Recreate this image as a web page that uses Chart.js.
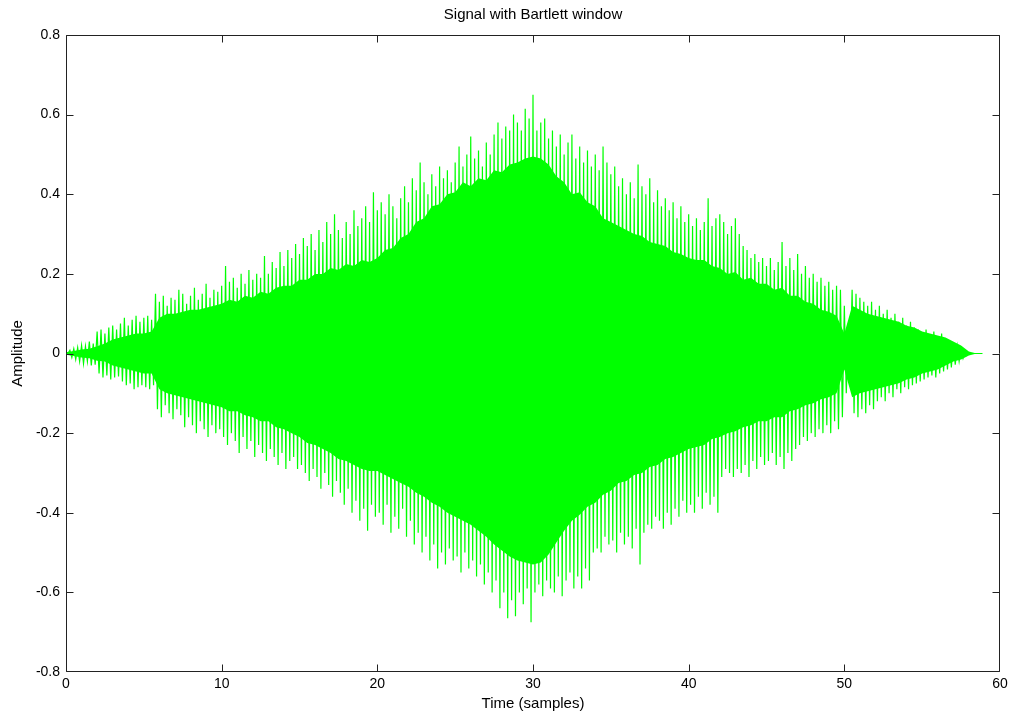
<!DOCTYPE html>
<html>
<head>
<meta charset="utf-8">
<title>Signal with Bartlett window</title>
<script src="https://cdn.jsdelivr.net/npm/chart.js@4.4.0/dist/chart.umd.min.js"></script>
<style>
    html, body { margin: 0; padding: 0; background: #fff; }
    #wrap { width: 1009px; height: 715px; }
</style>
</head>
<body>
<div id="wrap"><canvas id="signalChart" width="1009" height="715"></canvas></div>
<script>
// spike tips above / below zero, one pair every 0.25 samples (0 .. 60)
const peakStep = 0.25;
const peakHi = [
    0.000, 0.008, 0.012, 0.015, 0.020, 0.018, 0.030, 0.025, 0.055, 0.060, 0.050, 0.065, 0.070, 0.060, 0.075, 0.090, 0.070, 0.085, 0.095, 0.080,
    0.090, 0.095, 0.085, 0.150, 0.130, 0.145, 0.120, 0.140, 0.135, 0.160, 0.150, 0.125, 0.145, 0.165, 0.135, 0.150, 0.175, 0.140, 0.160, 0.155,
    0.170, 0.220, 0.180, 0.190, 0.165, 0.200, 0.175, 0.210, 0.185, 0.200, 0.190, 0.245, 0.200, 0.230, 0.215, 0.255, 0.220, 0.260, 0.240, 0.275,
    0.250, 0.290, 0.270, 0.300, 0.260, 0.310, 0.280, 0.330, 0.300, 0.350, 0.310, 0.290, 0.330, 0.300, 0.360, 0.320, 0.340, 0.370, 0.330, 0.405,
    0.360, 0.380, 0.350, 0.400, 0.370, 0.340, 0.390, 0.420, 0.380, 0.440, 0.410, 0.480, 0.430, 0.400, 0.450, 0.420, 0.470, 0.440, 0.460, 0.430,
    0.480, 0.520, 0.470, 0.500, 0.545, 0.490, 0.510, 0.470, 0.530, 0.500, 0.550, 0.580, 0.540, 0.570, 0.560, 0.600, 0.580, 0.560, 0.615, 0.590,
    0.650, 0.560, 0.580, 0.590, 0.540, 0.560, 0.520, 0.550, 0.500, 0.530, 0.550, 0.490, 0.520, 0.480, 0.510, 0.470, 0.500, 0.460, 0.520, 0.480,
    0.450, 0.470, 0.420, 0.440, 0.400, 0.430, 0.390, 0.475, 0.420, 0.400, 0.440, 0.380, 0.410, 0.370, 0.390, 0.360, 0.380, 0.340, 0.370, 0.330,
    0.350, 0.320, 0.340, 0.310, 0.330, 0.390, 0.320, 0.340, 0.350, 0.330, 0.300, 0.320, 0.340, 0.300, 0.270, 0.260, 0.240, 0.250, 0.230, 0.240,
    0.220, 0.240, 0.210, 0.230, 0.280, 0.220, 0.240, 0.210, 0.250, 0.200, 0.220, 0.190, 0.200, 0.180, 0.190, 0.170, 0.180, 0.160, 0.170, 0.160,
    0.120, 0.050, 0.160, 0.150, 0.140, 0.130, 0.120, 0.130, 0.110, 0.120, 0.100, 0.110, 0.090, 0.100, 0.080, 0.090, 0.070, 0.080, 0.065, 0.060,
    0.050, 0.060, 0.045, 0.055, 0.040, 0.050, 0.035, 0.030, 0.025, 0.018, 0.010, 0.004, 0.000, 0.000, 0.000, 0.000, null, null, null, null, null
];
const peakLo = [
    0.000, -0.010, -0.015, -0.020, -0.025, -0.020, -0.030, -0.028, -0.050, -0.060, -0.055, -0.065, -0.060, -0.058, -0.070, -0.080, -0.075, -0.090, -0.085, -0.080,
    -0.085, -0.090, -0.080, -0.140, -0.160, -0.130, -0.150, -0.165, -0.140, -0.155, -0.185, -0.160, -0.180, -0.200, -0.170, -0.190, -0.210, -0.180, -0.200, -0.190,
    -0.210, -0.230, -0.200, -0.220, -0.250, -0.210, -0.240, -0.220, -0.260, -0.230, -0.250, -0.270, -0.240, -0.260, -0.280, -0.250, -0.290, -0.270, -0.260, -0.290,
    -0.280, -0.300, -0.320, -0.290, -0.310, -0.340, -0.300, -0.330, -0.360, -0.320, -0.350, -0.380, -0.340, -0.400, -0.370, -0.420, -0.390, -0.445, -0.380, -0.410,
    -0.400, -0.430, -0.380, -0.450, -0.410, -0.440, -0.390, -0.460, -0.420, -0.480, -0.450, -0.500, -0.460, -0.520, -0.480, -0.540, -0.500, -0.530, -0.490, -0.520,
    -0.510, -0.550, -0.500, -0.540, -0.520, -0.560, -0.530, -0.580, -0.550, -0.600, -0.570, -0.640, -0.600, -0.665, -0.620, -0.660, -0.600, -0.630, -0.590, -0.675,
    -0.600, -0.580, -0.610, -0.570, -0.590, -0.600, -0.560, -0.610, -0.570, -0.550, -0.590, -0.560, -0.590, -0.540, -0.570, -0.500, -0.490, -0.500, -0.460, -0.480,
    -0.470, -0.500, -0.450, -0.480, -0.460, -0.490, -0.440, -0.530, -0.450, -0.430, -0.440, -0.410, -0.420, -0.440, -0.400, -0.430, -0.390, -0.410, -0.370, -0.400,
    -0.380, -0.400, -0.360, -0.390, -0.350, -0.380, -0.360, -0.400, -0.310, -0.290, -0.300, -0.310, -0.290, -0.300, -0.280, -0.310, -0.270, -0.290, -0.260, -0.280,
    -0.270, -0.250, -0.280, -0.260, -0.290, -0.250, -0.270, -0.240, -0.230, -0.210, -0.220, -0.200, -0.210, -0.190, -0.200, -0.180, -0.200, -0.170, -0.190, -0.160,
    -0.100, -0.050, -0.150, -0.160, -0.140, -0.150, -0.130, -0.140, -0.120, -0.110, -0.120, -0.100, -0.110, -0.090, -0.100, -0.085, -0.090, -0.080, -0.075, -0.070,
    -0.065, -0.060, -0.055, -0.060, -0.050, -0.045, -0.040, -0.035, -0.028, -0.020, -0.012, -0.005, 0.000, 0.000, 0.000, 0.000, null, null, null, null, null
];

// edge of the dense part of the signal, every 0.5 samples
const bodyStep = 0.5;
const bodyHi = [
    0.003, 0.006, 0.010, 0.012, 0.018, 0.025, 0.035, 0.040, 0.045, 0.050, 0.050, 0.055, 0.090, 0.100, 0.100, 0.105, 0.110, 0.110, 0.115, 0.120,
    0.125, 0.135, 0.130, 0.145, 0.140, 0.155, 0.150, 0.165, 0.170, 0.170, 0.185, 0.185, 0.200, 0.200, 0.215, 0.210, 0.225, 0.220, 0.235, 0.230,
    0.240, 0.260, 0.265, 0.290, 0.300, 0.330, 0.340, 0.370, 0.375, 0.400, 0.405, 0.430, 0.420, 0.440, 0.435, 0.460, 0.455, 0.475, 0.480, 0.490,
    0.495, 0.490, 0.475, 0.445, 0.430, 0.400, 0.405, 0.380, 0.370, 0.340, 0.330, 0.320, 0.310, 0.300, 0.295, 0.280, 0.275, 0.270, 0.255, 0.250,
    0.240, 0.235, 0.235, 0.220, 0.215, 0.200, 0.205, 0.185, 0.190, 0.175, 0.175, 0.160, 0.165, 0.145, 0.145, 0.130, 0.125, 0.110, 0.105, 0.095,
    0.050, 0.120, 0.110, 0.100, 0.095, 0.090, 0.085, 0.080, 0.070, 0.065, 0.055, 0.050, 0.045, 0.040, 0.030, 0.020, 0.005, 0.000, null, null,
    null
];
const bodyLo = [
    -0.003, -0.006, -0.010, -0.012, -0.018, -0.020, -0.030, -0.035, -0.040, -0.045, -0.050, -0.050, -0.090, -0.100, -0.105, -0.110, -0.115, -0.120, -0.125, -0.130,
    -0.135, -0.145, -0.145, -0.155, -0.160, -0.170, -0.170, -0.185, -0.190, -0.200, -0.210, -0.225, -0.230, -0.240, -0.250, -0.265, -0.270, -0.280, -0.290, -0.295,
    -0.295, -0.305, -0.315, -0.325, -0.335, -0.350, -0.360, -0.375, -0.385, -0.400, -0.410, -0.420, -0.430, -0.445, -0.460, -0.480, -0.495, -0.510, -0.520, -0.525,
    -0.530, -0.525, -0.505, -0.475, -0.445, -0.420, -0.405, -0.385, -0.375, -0.355, -0.345, -0.325, -0.320, -0.305, -0.300, -0.285, -0.280, -0.265, -0.260, -0.250,
    -0.240, -0.235, -0.230, -0.215, -0.210, -0.200, -0.195, -0.185, -0.180, -0.170, -0.170, -0.160, -0.160, -0.145, -0.140, -0.130, -0.125, -0.115, -0.110, -0.100,
    -0.040, -0.110, -0.100, -0.095, -0.090, -0.085, -0.080, -0.075, -0.065, -0.060, -0.050, -0.045, -0.040, -0.030, -0.020, -0.015, -0.005, 0.000, null, null,
    null
];

const xTicks = [0, 10, 20, 30, 40, 50, 60];
const yTicks = [-0.8, -0.6, -0.4, -0.2, 0, 0.2, 0.4, 0.6, 0.8];

const GREEN = '#00ff00';
const FONT = 'Arial, "Liberation Sans", Helvetica, sans-serif';

function toPoints(values, step) {
    return values.map((v, i) => ({ x: i * step, y: v }));
}

// one up/down stroke per tip pair, like the raw plotted samples
function zigzag(hi, lo, step) {
    const pts = [];
    for (let i = 0; i < hi.length; i++) {
        if (hi[i] === null) break;
        pts.push({ x: i * step, y: hi[i] });
        pts.push({ x: i * step + step / 2, y: lo[i] });
    }
    return pts;
}

// matlab style frame: box all round, ticks pointing inwards on every side
const boxTicks = {
    id: 'boxTicks',
    afterDatasetsDraw(chart) {
        const { ctx, chartArea: a, scales: { x, y } } = chart;
        const len = 7;
        const L = Math.round(a.left) + 0.5, R = Math.round(a.right) - 0.5;
        const T = Math.round(a.top) + 0.5, B = Math.round(a.bottom) - 0.5;
        const clamp = (v, lo, hi) => Math.min(Math.max(v, lo), hi);
        ctx.save();
        ctx.strokeStyle = '#222';
        ctx.lineWidth = 1;
        ctx.beginPath();
        ctx.rect(L, T, R - L, B - T);
        xTicks.forEach(v => {
            const px = clamp(Math.round(x.getPixelForValue(v)) + 0.5, L, R);
            ctx.moveTo(px, B); ctx.lineTo(px, B - len);
            ctx.moveTo(px, T); ctx.lineTo(px, T + len);
        });
        yTicks.forEach(v => {
            const py = clamp(Math.round(y.getPixelForValue(v)) + 0.5, T, B);
            ctx.moveTo(L, py); ctx.lineTo(L + len, py);
            ctx.moveTo(R, py); ctx.lineTo(R - len, py);
        });
        ctx.stroke();
        ctx.restore();
    }
};

function renderSignalChart() {
    const ctx = document.getElementById('signalChart').getContext('2d');
    new Chart(ctx, {
        type: 'line',
        data: {
            datasets: [
                {
                    label: 'signal',
                    data: zigzag(peakHi, peakLo, peakStep),
                    borderColor: GREEN,
                    borderWidth: 1.2,
                    pointRadius: 0,
                    tension: 0,
                    fill: false
                },
                {
                    label: 'body upper',
                    data: toPoints(bodyHi, bodyStep),
                    borderWidth: 0,
                    pointRadius: 0,
                    tension: 0,
                    backgroundColor: GREEN,
                    fill: '+1'
                },
                {
                    label: 'body lower',
                    data: toPoints(bodyLo, bodyStep),
                    borderWidth: 0,
                    pointRadius: 0,
                    tension: 0,
                    fill: false
                }
            ]
        },
        options: {
            responsive: false,
            animation: false,
            events: [],
            layout: { padding: { left: 0, right: 9, top: 0, bottom: 0 } },
            scales: {
                x: {
                    type: 'linear',
                    min: 0,
                    max: 60,
                    afterBuildTicks: scale => { scale.ticks = xTicks.map(v => ({ value: v })); },
                    afterFit: scale => {
                        scale.height = 43;
                        scale.paddingLeft = 0;
                        scale.paddingRight = 0;
                    },
                    grid: { display: false, drawTicks: false },
                    border: { display: false },
                    ticks: {
                        padding: 4,
                        color: '#000',
                        font: { family: FONT, size: 14 },
                        maxRotation: 0,
                        callback: v => String(v)
                    },
                    title: {
                        display: true,
                        text: 'Time (samples)',
                        color: '#000',
                        font: { family: FONT, size: 15 },
                        padding: { top: 0, bottom: 2 }
                    }
                },
                y: {
                    type: 'linear',
                    min: -0.8,
                    max: 0.8,
                    afterBuildTicks: scale => { scale.ticks = yTicks.map(v => ({ value: v })); },
                    afterFit: scale => { scale.width = 66; },
                    grid: { display: false, drawTicks: false },
                    border: { display: false },
                    ticks: {
                        padding: 6,
                        color: '#000',
                        font: { family: FONT, size: 14 },
                        callback: v => String(Math.round(v * 10) / 10)
                    },
                    title: {
                        display: true,
                        text: 'Amplitude',
                        color: '#000',
                        font: { family: FONT, size: 15 },
                        padding: { top: 9, bottom: 0 }
                    }
                }
            },
            plugins: {
                legend: { display: false },
                tooltip: { enabled: false },
                title: {
                    display: true,
                    text: 'Signal with Bartlett window',
                    fullSize: false,
                    color: '#000',
                    font: { family: FONT, size: 15, weight: 'normal' },
                    padding: { top: 6, bottom: 11 }
                }
            }
        },
        plugins: [boxTicks]
    });
}

renderSignalChart();
</script>
</body>
</html>
